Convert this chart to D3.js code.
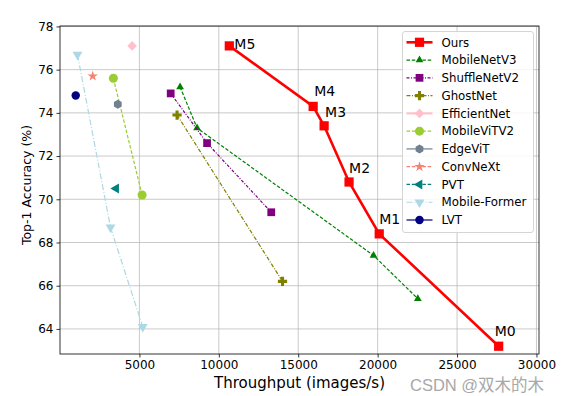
<!DOCTYPE html>
<html lang="en">
<head>
    <meta charset="UTF-8">
    <title>Throughput vs Top-1 Accuracy</title>
    <script src="https://d3js.org/d3.v7.min.js"></script>
    <style>
        body { margin: 0; background: #fff; }
        text { font-family: "DejaVu Sans", sans-serif; fill: #000; }
    </style>
</head>
<body>
<div id="chart"></div>
<script>
// ---- data ----
const oursX = [27620, 20100, 18200, 16630, 15940, 10660];
const oursY = [63.2, 68.4, 70.8, 73.4, 74.3, 77.1];
const oursLabels = ["M0", "M1", "M2", "M3", "M4", "M5"];

const mobilenetX = [7560, 8630, 19740, 22530];
const mobilenetY = [75.2, 73.3, 67.4, 65.4];

const shuffleX = [6970, 9260, 13300];
const shuffleY = [74.9, 72.6, 69.4];

const ghostX = [7370, 14010];
const ghostY = [73.9, 66.2];

const efficientX = [4540];
const efficientY = [77.1];

const mobilevitX = [3360, 5170];
const mobilevitY = [75.6, 70.2];

const edgevitX = [3640];
const edgevitY = [74.4];

const convnextX = [2060];
const convnextY = [75.7];

const pvtX = [3530];
const pvtY = [70.5];

const formerX = [1100, 3180, 5210];
const formerY = [76.7, 68.7, 64.1];

const lvtX = [990];
const lvtY = [74.8];

const xTicks = [5000, 10000, 15000, 20000, 25000, 30000];
const yTicks = [64, 66, 68, 70, 72, 74, 76, 78];

// ---- layout ----
const width = 563, height = 396;
const margin = {left: 60, top: 26, right: 24, bottom: 42};

const svg = d3.select('#chart').append('svg')
    .attr('width', width)
    .attr('height', height);

const x = d3.scaleLinear().domain([0, 30160]).range([margin.left, width - margin.right]);
const y = d3.scaleLinear().domain([62.84, 78.02]).range([height - margin.bottom, margin.top]);

// custom marker shapes
const plusFilled = {
    draw(ctx, size) {
        const r = Math.sqrt(size) / 2, t = r / 3;
        ctx.moveTo(-t, -r); ctx.lineTo(t, -r); ctx.lineTo(t, -t); ctx.lineTo(r, -t);
        ctx.lineTo(r, t); ctx.lineTo(t, t); ctx.lineTo(t, r); ctx.lineTo(-t, r);
        ctx.lineTo(-t, t); ctx.lineTo(-r, t); ctx.lineTo(-r, -t); ctx.lineTo(-t, -t);
        ctx.closePath();
    }
};
const hexagon = {
    draw(ctx, size) {
        const r = Math.sqrt(size) / 2;
        for (let i = 0; i < 6; i++) {
            const a = Math.PI / 2 + i * Math.PI / 3;
            const px = r * Math.cos(a), py = r * Math.sin(a);
            if (i === 0) ctx.moveTo(px, py); else ctx.lineTo(px, py);
        }
        ctx.closePath();
    }
};

const series = [
    {name: 'Ours', xs: oursX, ys: oursY, color: 'red', width: 2.6, dash: null, sym: d3.symbolSquare, size: 85, rot: 0},
    {name: 'MobileNetV3', xs: mobilenetX, ys: mobilenetY, color: 'green', width: 1.2, dash: '3.5,1.8', sym: d3.symbolTriangle, size: 26, rot: 0},
    {name: 'ShuffleNetV2', xs: shuffleX, ys: shuffleY, color: 'purple', width: 1.2, dash: '3,1.5,1,1.5', sym: d3.symbolSquare, size: 60, rot: 0},
    {name: 'GhostNet', xs: ghostX, ys: ghostY, color: 'olive', width: 1.2, dash: '4,1.5,1,1.5', sym: plusFilled, size: 85, rot: 0},
    {name: 'EfficientNet', xs: efficientX, ys: efficientY, color: 'pink', width: 2.2, dash: null, sym: d3.symbolSquare, size: 46, rot: 45},
    {name: 'MobileViTV2', xs: mobilevitX, ys: mobilevitY, color: 'yellowgreen', width: 1.2, dash: '3.5,1.8', sym: d3.symbolCircle, size: 64, rot: 0},
    {name: 'EdgeViT', xs: edgevitX, ys: edgevitY, color: 'slategray', width: 1.2, dash: null, sym: hexagon, size: 80, rot: 0},
    {name: 'ConvNeXt', xs: convnextX, ys: convnextY, color: 'salmon', width: 1.2, dash: '3.5,1.8', sym: d3.symbolStar, size: 34, rot: 0},
    {name: 'PVT', xs: pvtX, ys: pvtY, color: 'teal', width: 1.2, dash: '3.5,1.8', sym: d3.symbolTriangle, size: 42, rot: -90},
    {name: 'Mobile-Former', xs: formerX, ys: formerY, color: 'lightblue', width: 1.2, dash: '6,2,1,2', sym: d3.symbolTriangle, size: 42, rot: 180},
    {name: 'LVT', xs: lvtX, ys: lvtY, color: 'navy', width: 1.2, dash: null, sym: d3.symbolCircle, size: 56, rot: 0}
];

// grid
const g = svg.append('g');
g.selectAll('.gx').data(xTicks).enter().append('line')
    .attr('x1', d => x(d)).attr('x2', d => x(d))
    .attr('y1', y.range()[0]).attr('y2', y.range()[1])
    .attr('stroke', '#b0b0b0').attr('stroke-opacity', 0.75).attr('stroke-width', 0.9);
g.selectAll('.gy').data(yTicks).enter().append('line')
    .attr('y1', d => y(d)).attr('y2', d => y(d))
    .attr('x1', x.range()[0]).attr('x2', x.range()[1])
    .attr('stroke', '#b0b0b0').attr('stroke-opacity', 0.75).attr('stroke-width', 0.9);

// axes
const xAxis = svg.append('g')
    .attr('transform', `translate(0,${height - margin.bottom})`)
    .call(d3.axisBottom(x).tickValues(xTicks).tickFormat(d3.format('d')).tickSize(3.5).tickPadding(3));
const yAxis = svg.append('g')
    .attr('transform', `translate(${margin.left},0)`)
    .call(d3.axisLeft(y).tickValues(yTicks).tickFormat(d3.format('d')).tickSize(3.5).tickPadding(3));
[xAxis, yAxis].forEach(a => {
    a.select('.domain').remove();
    a.selectAll('text').style('font-size', '12px').style('font-family', 'DejaVu Sans');
    a.selectAll('line').attr('stroke-width', 0.8);
});

// spines
svg.append('rect')
    .attr('x', x.range()[0]).attr('y', y.range()[1])
    .attr('width', x.range()[1] - x.range()[0])
    .attr('height', y.range()[0] - y.range()[1])
    .attr('fill', 'none').attr('stroke', '#000').attr('stroke-width', 0.8);

// lines + markers
const line = d3.line().x(d => x(d[0])).y(d => y(d[1]));
series.forEach(s => {
    const pts = s.xs.map((v, i) => [v, s.ys[i]]);
    if (pts.length > 1) {
        svg.append('path').datum(pts)
            .attr('d', line)
            .attr('fill', 'none')
            .attr('stroke', s.color)
            .attr('stroke-width', s.width)
            .attr('stroke-dasharray', s.dash);
    }
    svg.selectAll(null).data(pts).enter().append('path')
        .attr('d', d3.symbol().type(s.sym).size(s.size))
        .attr('transform', d => `translate(${x(d[0])},${y(d[1])}) rotate(${s.rot})`)
        .attr('fill', s.color);
});

// annotations for our models
const labelOffsets = [[-4, -10], [0, -10], [0, -9], [1, -9], [1, -10], [5, 3]];
svg.selectAll('.mlab').data(oursLabels).enter().append('text')
    .attr('x', (d, i) => x(oursX[i]) + labelOffsets[i][0])
    .attr('y', (d, i) => y(oursY[i]) + labelOffsets[i][1])
    .style('font-size', '14px')
    .text(d => d);

// axis labels
svg.append('text')
    .attr('x', (x.range()[0] + x.range()[1]) / 2)
    .attr('y', 388)
    .attr('text-anchor', 'middle')
    .style('font-size', '15px')
    .text('Throughput (images/s)');
svg.append('text')
    .attr('transform', `translate(31,${(y.range()[0] + y.range()[1]) / 2 - 5}) rotate(-90)`)
    .attr('text-anchor', 'middle')
    .style('font-size', '12.5px')
    .text('Top-1 Accuracy (%)');

// legend
const lg = svg.append('g');
lg.append('rect')
    .attr('x', 402.5).attr('y', 31.5).attr('width', 131).attr('height', 201)
    .attr('rx', 2.5)
    .attr('fill', 'white').attr('fill-opacity', 0.85)
    .attr('stroke', '#d0d0d0').attr('stroke-width', 0.9);
series.forEach((s, i) => {
    const cy = 42.3 + i * 17.77;
    lg.append('line')
        .attr('x1', 406.5).attr('x2', 432.5).attr('y1', cy).attr('y2', cy)
        .attr('stroke', s.color).attr('stroke-width', s.width)
        .attr('stroke-dasharray', s.dash);
    lg.append('path')
        .attr('d', d3.symbol().type(s.sym).size(s.size))
        .attr('transform', `translate(419.5,${cy}) rotate(${s.rot})`)
        .attr('fill', s.color);
    lg.append('text')
        .attr('x', 441.5).attr('y', cy).attr('dy', '0.36em')
        .style('font-size', '11.8px')
        .text(s.name);
});

// watermark
svg.append('text')
    .attr('x', 410).attr('y', 391)
    .style('font-family', '"Liberation Sans", "Noto Sans CJK SC", sans-serif')
    .style('font-size', '16.5px')
    .style('fill', '#a8a8a8')
    .attr('stroke', '#ffffff').attr('stroke-width', 0.6).attr('paint-order', 'stroke')
    .text('CSDN @双木的木');
</script>
</body>
</html>
